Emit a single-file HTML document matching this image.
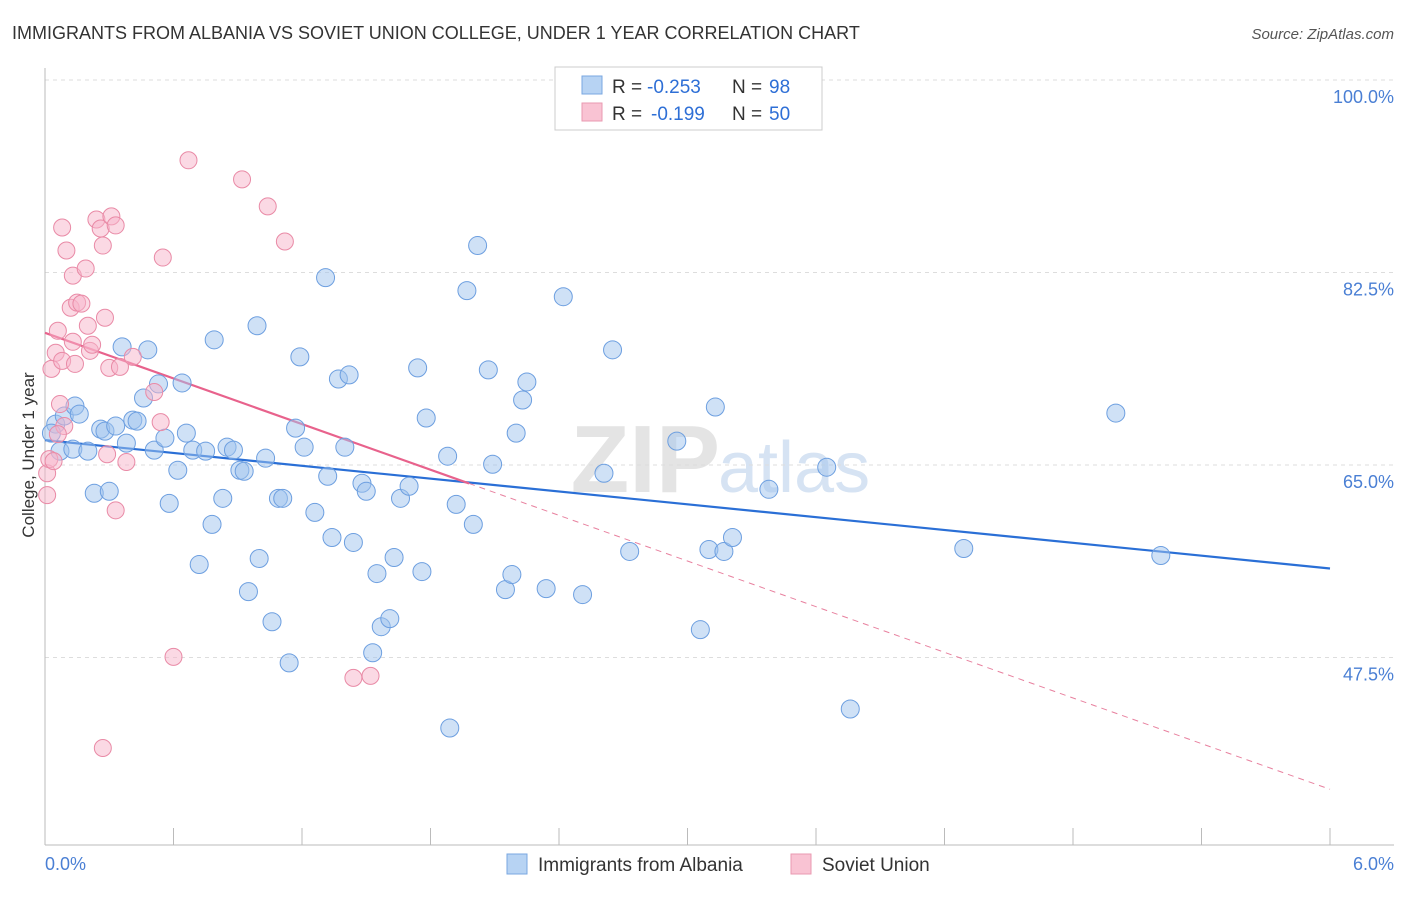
<!DOCTYPE html>
<html><head><meta charset="utf-8">
<style>
body{margin:0;background:#fff;font-family:"Liberation Sans",sans-serif;}
svg text{font-family:"Liberation Sans",sans-serif;}
</style></head>
<body>
<svg id="chart" width="1406" height="892">
<text x="12" y="39" font-size="18" fill="#333">IMMIGRANTS FROM ALBANIA VS SOVIET UNION COLLEGE, UNDER 1 YEAR CORRELATION CHART</text>
<text x="1394" y="39" font-size="15" fill="#555" font-style="italic" text-anchor="end">Source: ZipAtlas.com</text>
<text x="720" y="492" font-size="96" fill="#e4e4e4" text-anchor="end" font-family="Liberation Serif" font-weight="bold">ZIP</text>
<text x="718" y="492" font-size="72" fill="#d6e3f3">atlas</text>
<g id="grid"></g><g id="lines"></g><g id="pts"></g>
<text transform="translate(34,455) rotate(-90)" font-size="17" fill="#333" text-anchor="middle">College, Under 1 year</text>
<text x="45" y="870" font-size="18" fill="#4a7fd4">0.0%</text>
<text x="1394" y="870" font-size="18" fill="#4a7fd4" text-anchor="end">6.0%</text>
<g>
<rect x="555" y="67" width="267" height="63" fill="#fff" stroke="#ccc"/>
<rect x="582" y="76" width="20" height="18" fill="#b7d3f3" stroke="#7aa7e0"/>
<rect x="582" y="103" width="20" height="18" fill="#f9c3d3" stroke="#e99ab0"/>
<text x="612" y="93" font-size="19" fill="#333">R =</text>
<text x="647" y="93" font-size="19" fill="#2e6fd6">-0.253</text>
<text x="732" y="93" font-size="19" fill="#333">N =</text>
<text x="769" y="93" font-size="19" fill="#2e6fd6">98</text>
<text x="612" y="120" font-size="19" fill="#333">R =</text>
<text x="651" y="120" font-size="19" fill="#2e6fd6">-0.199</text>
<text x="732" y="120" font-size="19" fill="#333">N =</text>
<text x="769" y="120" font-size="19" fill="#2e6fd6">50</text>
</g>
<g>
<rect x="507" y="854" width="20" height="20" fill="#b7d3f3" stroke="#7aa7e0"/>
<text x="538" y="871" font-size="19" fill="#333">Immigrants from Albania</text>
<rect x="791" y="854" width="20" height="20" fill="#f9c3d3" stroke="#e99ab0"/>
<text x="822" y="871" font-size="19" fill="#333">Soviet Union</text>
</g>
</svg>
<script>
const yTicks=[100,82.5,65,47.5];
const yTickLabels=["100.0%","82.5%","65.0%","47.5%"];
const xTicks=[0,0.6,1.2,1.8,2.4,3.0,3.6,4.2,4.8,5.4,6.0];
const blueX=[0.05,0.03,0.07,0.09,0.13,0.14,0.16,0.20,0.23,0.26,0.28,0.30,0.33,0.36,0.38,0.41,0.43,0.46,0.48,0.51,0.53,0.56,0.58,0.62,0.64,0.66,0.69,0.72,0.75,0.78,0.79,0.83,0.85,0.88,0.91,0.93,0.95,0.99,1.00,1.03,1.06,1.09,1.11,1.14,1.17,1.19,1.21,1.26,1.31,1.32,1.34,1.37,1.40,1.42,1.44,1.48,1.50,1.53,1.55,1.57,1.61,1.63,1.66,1.70,1.74,1.76,1.78,1.88,1.89,1.92,1.97,2.00,2.02,2.07,2.09,2.15,2.18,2.20,2.23,2.25,2.34,2.42,2.51,2.61,2.65,2.73,2.95,3.06,3.10,3.13,3.17,3.21,3.38,3.65,3.76,4.29,5.00,5.21];
const blueY=[68.72,67.90,66.26,69.45,66.44,70.36,69.63,66.26,62.43,68.26,68.08,62.61,68.54,75.74,66.99,69.08,68.99,71.09,75.47,66.35,72.37,67.44,61.51,64.52,72.46,67.90,66.35,55.95,66.26,59.60,76.38,61.97,66.62,66.35,64.52,64.43,53.49,77.66,56.50,65.62,50.75,61.97,61.97,47.01,68.35,74.83,66.62,60.69,82.03,63.98,58.41,72.82,66.62,73.19,57.96,63.34,62.61,47.93,55.13,50.30,51.03,56.59,61.97,63.07,73.83,55.31,69.27,65.80,41.09,61.42,80.85,59.60,84.95,73.65,65.07,53.67,55.04,67.90,70.91,72.55,53.76,80.30,53.22,64.25,75.47,57.14,67.17,50.03,57.32,70.27,57.14,58.41,62.79,64.80,42.82,57.41,69.72,56.77];
const pinkX=[0.01,0.01,0.02,0.03,0.05,0.06,0.07,0.08,0.08,0.09,0.10,0.12,0.13,0.13,0.14,0.15,0.17,0.19,0.20,0.21,0.22,0.24,0.26,0.27,0.27,0.28,0.29,0.30,0.31,0.33,0.33,0.35,0.38,0.41,0.51,0.54,0.55,0.60,0.67,0.92,1.04,1.12,1.44,1.52,0.04,0.06];
const pinkY=[62.26,64.25,65.53,73.74,75.20,77.20,70.54,74.47,86.59,68.54,84.50,79.30,76.20,82.22,74.19,79.76,79.67,82.86,77.66,75.38,75.93,87.32,86.50,84.95,39.27,78.39,65.98,73.83,87.60,60.88,86.78,73.92,65.27,74.83,71.64,68.90,83.86,47.56,92.70,90.97,88.51,85.32,45.65,45.83,65.35,67.81];
const blueTrend=[67.26,55.59];
const pinkTrend=[77.02,35.52];
const pinkSolidEnd=1.98;
const NS="http://www.w3.org/2000/svg";
const sx=v=>45+v/6*1285;
const sy=v=>80+(100-v)/17.5*192.5;
function mk(tag,attrs,parent){const e=document.createElementNS(NS,tag);for(const k in attrs)e.setAttribute(k,attrs[k]);parent.appendChild(e);return e;}
const grid=document.getElementById('grid');
yTicks.forEach((t,i)=>{
 const l=mk('line',{x1:45,x2:1394,y1:sy(t),y2:sy(t),stroke:'#ddd','stroke-dasharray':'4,4'},grid);
 
 
 const tx=mk('text',{x:1394,y:sy(t)+23,'font-size':18,fill:'#4a7fd4','text-anchor':'end'},grid);
 tx.textContent=yTickLabels[i];
 
 
});
const ax=mk('line',{x1:45,x2:45,y1:68,y2:845,stroke:'#bbb'},grid);


const bx=mk('line',{x1:45,x2:1394,y1:845,y2:845,stroke:'#bbb'},grid);


xTicks.forEach(t=>{
 const l=mk('line',{x1:sx(t),x2:sx(t),y1:828,y2:845,stroke:'#bbb'},grid);
 
 
});
const pts=document.getElementById('pts');
blueX.forEach((x,i)=>{
 const c=mk('circle',{cx:sx(x),cy:sy(blueY[i]),r:9,fill:'rgba(160,196,238,0.5)',stroke:'#6d9fe0','stroke-width':1},pts);
 
 
});
pinkX.forEach((x,i)=>{
 const c=mk('circle',{cx:sx(x),cy:sy(pinkY[i]),r:8.5,fill:'rgba(247,180,202,0.5)',stroke:'#e98aa6','stroke-width':1},pts);
 
 
});
const lines=document.getElementById('lines');
const bl=mk('line',{x1:sx(0),y1:sy(blueTrend[0]),x2:sx(6),y2:sy(blueTrend[1]),stroke:'#2a6fd6','stroke-width':2.2},lines);


const pm=pinkTrend[0]+(pinkTrend[1]-pinkTrend[0])*pinkSolidEnd/6;
const pl=mk('line',{x1:sx(0),y1:sy(pinkTrend[0]),x2:sx(pinkSolidEnd),y2:sy(pm),stroke:'#e8628c','stroke-width':2.2},lines);


const pd=mk('line',{x1:sx(pinkSolidEnd),y1:sy(pm),x2:sx(6),y2:sy(pinkTrend[1]),stroke:'#e8819f','stroke-width':1,'stroke-dasharray':'6,5'},lines);


</script>
</body></html>
